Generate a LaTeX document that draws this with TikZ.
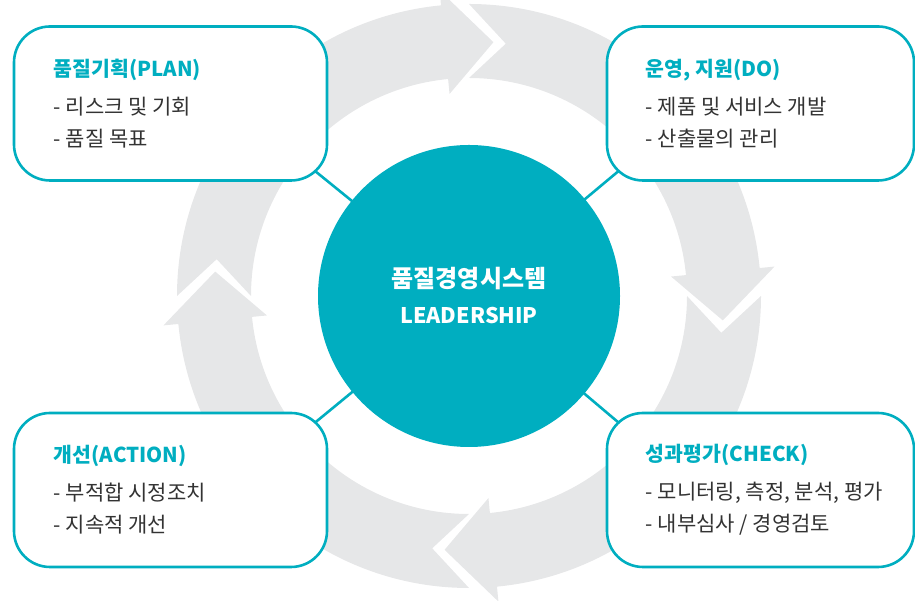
\documentclass[tikz,border=0pt]{standalone}
\usepackage{fontspec}
\setmainfont{Noto Sans CJK KR}
\usepackage{tikz}
\usetikzlibrary{calc,backgrounds}
\definecolor{qteal}{RGB}{0,174,192}
\definecolor{qgrey}{RGB}{230,231,232}
\definecolor{qtext}{RGB}{51,51,51}
\newcommand{\ttl}[1]{{\bfseries\fontsize{20.5}{32}\selectfont\color{qteal}#1}}

\begin{document}
\begin{tikzpicture}[x=1pt,y=1pt,
    box/.style={draw=qteal,line width=2.6pt,fill=white,rounded corners=36pt,
      minimum width=313pt,minimum height=154pt},
    txt/.style={anchor=west,align=left,inner sep=0pt,text=qtext,
      font=\fontsize{21}{32}\selectfont}]
    \useasboundingbox (0,0) rectangle (915,601);
    % grey cycle
    \foreach \a in {90,0,-90,-180} {
      \fill[qgrey,shift={(469,305)}] ({\a+90}:292)
        arc[start angle=\a+90,end angle=\a+5.5,radius=292pt]
        -- ({\a+5.5}:307) -- ({\a-5.5}:255) -- ({\a+5.5}:203) -- ({\a+5.5}:218)
        arc[start angle=\a+5.5,end angle=\a+90,radius=218pt]
        -- ({\a+81.7}:255) -- cycle;
    }
    \node [circle,fill=qteal,minimum size=302pt,text=white,align=center,
      font=\bfseries\fontsize{21.5}{36}\selectfont] (hub) at (469,305) {
      {\fontsize{24}{36}\selectfont 품질경영시스템}\\LEADERSHIP
    };
    \node [box] (plan) at (170.5,497.5) {};
    \node [box,minimum width=307pt] (do) at (760.5,497.5) {};
    \node [box] (act) at (170.5,111) {};
    \node [box,minimum width=307pt] (check) at (760.5,111) {};
    \node [txt] (plantxt) at ([xshift=41pt]plan.west) {
      \ttl{품질기획(PLAN)}\\[6pt]- 리스크 및 기회\\- 품질 목표
    };
    \node [txt] (dotxt) at ([xshift=40pt]do.west) {
      \ttl{운영, 지원(DO)}\\[6pt]- 제품 및 서비스 개발\\- 산출물의 관리
    };
    \node [txt] (acttxt) at ([xshift=41pt]act.west) {
      \ttl{개선(ACTION)}\\[6pt]- 부적합 시정조치\\- 지속적 개선
    };
    \node [txt] (checktxt) at ([xshift=40pt]check.west) {
      \ttl{성과평가(CHECK)}\\[6pt]- 모니터링, 측정, 분석, 평가\\- 내부심사 / 경영검토
    };
    \begin{scope}[on background layer]
      \draw [qteal,line width=2.6pt,shorten >=-20pt] (hub.center) -- (plan.south east);
      \draw [qteal,line width=2.6pt,shorten >=-20pt] (hub.center) -- (do.south west);
      \draw [qteal,line width=2.6pt,shorten >=-20pt] (hub.center) -- (act.north east);
      \draw [qteal,line width=2.6pt,shorten >=-20pt] (hub.center) -- (check.north west);
    \end{scope}
\end{tikzpicture}
\end{document}
